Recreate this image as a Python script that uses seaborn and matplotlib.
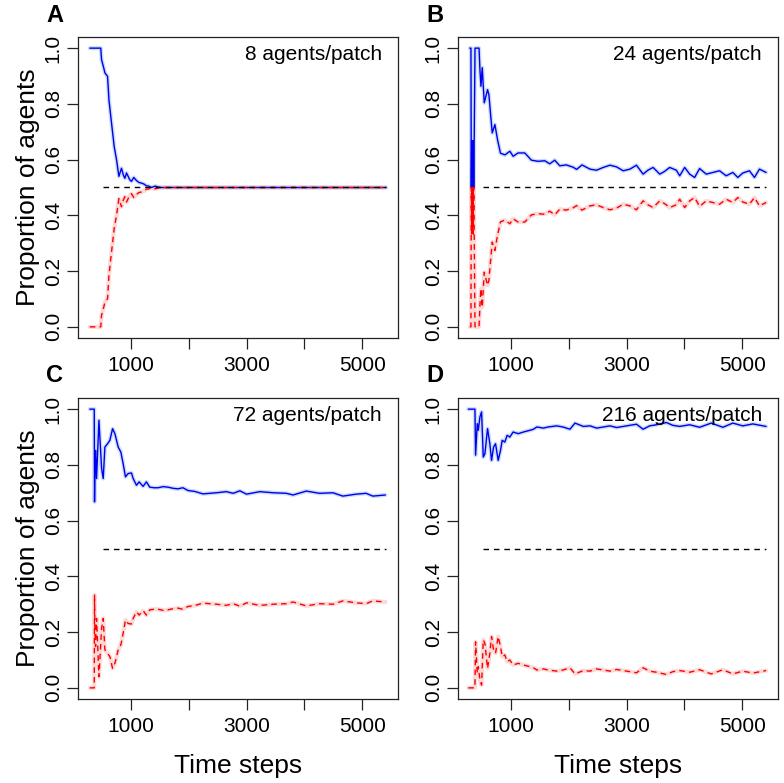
import matplotlib
matplotlib.use("Agg")
import matplotlib.pyplot as plt
import seaborn as sns

# ---- data ----
panel_letters = ["A", "B", "C", "D"]
panel_titles = ["8 agents/patch", "24 agents/patch", "72 agents/patch", "216 agents/patch"]
x_ticks = [1000, 2000, 3000, 4000, 5000]
x_tick_labels = ["1000", "", "3000", "", "5000"]
y_ticks = [0.0, 0.2, 0.4, 0.6, 0.8, 1.0]
ref_x = [520, 5410]
ref_y = [0.5, 0.5]

time_a = [290, 480, 493, 530, 552, 597, 621, 666, 712, 752, 793, 838, 870, 896, 925,
          953, 980, 1010, 1050, 1097, 1140, 1183, 1230, 1269, 1310, 1355, 1420, 1470,
          1510, 5410]
blue_a = [1.0, 1.0, 0.959, 0.93, 0.911, 0.899, 0.815, 0.731, 0.647, 0.60, 0.54, 0.569,
          0.545, 0.533, 0.552, 0.540, 0.528, 0.522, 0.536, 0.525, 0.518, 0.516, 0.512,
          0.506, 0.505, 0.500, 0.505, 0.502, 0.500, 0.500]
red_a = [0.0, 0.0, 0.041, 0.07, 0.089, 0.101, 0.185, 0.269, 0.353, 0.40, 0.46, 0.431,
         0.455, 0.467, 0.448, 0.460, 0.472, 0.478, 0.464, 0.475, 0.482, 0.484, 0.488,
         0.494, 0.495, 0.500, 0.495, 0.498, 0.500, 0.500]

time_b = [290, 310, 316, 322, 328, 335, 342, 350, 358, 366, 380, 450, 465, 483, 505,
          540, 597, 620, 678, 724, 769, 821, 897, 983, 1040, 1124, 1241, 1356, 1471,
          1586, 1672, 1759, 1845, 1960, 2075, 2138, 2230, 2368, 2480, 2598, 2713, 2828,
          2943, 3060, 3172, 3287, 3370, 3460, 3575, 3660, 3747, 3862, 3920, 4006, 4092,
          4178, 4264, 4379, 4494, 4609, 4724, 4839, 4925, 5011, 5126, 5213, 5299, 5414]
blue_b = [1.0, 1.0, 0.5, 0.667, 0.5, 0.667, 0.5, 0.667, 0.5, 0.667, 1.0, 1.0, 0.924,
          0.863, 0.93, 0.804, 0.851, 0.833, 0.696, 0.726, 0.672, 0.623, 0.617, 0.63,
          0.612, 0.624, 0.624, 0.598, 0.594, 0.596, 0.585, 0.598, 0.578, 0.581, 0.573,
          0.565, 0.581, 0.566, 0.562, 0.572, 0.58, 0.574, 0.56, 0.566, 0.58, 0.548,
          0.562, 0.572, 0.548, 0.558, 0.572, 0.562, 0.542, 0.572, 0.548, 0.536, 0.568,
          0.548, 0.554, 0.56, 0.542, 0.554, 0.536, 0.552, 0.56, 0.536, 0.566, 0.554]
red_b = [0.0, 0.0, 0.5, 0.333, 0.5, 0.333, 0.5, 0.333, 0.5, 0.333, 0.0, 0.0, 0.076,
         0.137, 0.07, 0.196, 0.149, 0.167, 0.304, 0.274, 0.328, 0.377, 0.383, 0.37,
         0.388, 0.376, 0.376, 0.402, 0.406, 0.404, 0.415, 0.402, 0.422, 0.419, 0.427,
         0.435, 0.419, 0.434, 0.438, 0.428, 0.42, 0.426, 0.44, 0.434, 0.42, 0.452,
         0.438, 0.428, 0.452, 0.442, 0.428, 0.438, 0.458, 0.428, 0.452, 0.464, 0.432,
         0.452, 0.446, 0.44, 0.458, 0.446, 0.464, 0.448, 0.44, 0.464, 0.434, 0.446]

time_c = [290, 367, 372, 379, 390, 407, 448, 494, 522, 551, 597, 637, 684, 724, 781,
          827, 867, 907, 953, 1011, 1040, 1097, 1143, 1212, 1269, 1327, 1400, 1471,
          1560, 1643, 1730, 1816, 1900, 1988, 2100, 2247, 2483, 2650, 2770, 2885, 3000,
          3230, 3460, 3690, 3805, 4034, 4264, 4494, 4667, 4897, 5069, 5184, 5402]
blue_c = [1.0, 1.0, 0.667, 0.804, 0.852, 0.751, 0.960, 0.787, 0.751, 0.864, 0.876,
          0.888, 0.930, 0.912, 0.864, 0.846, 0.804, 0.757, 0.769, 0.771, 0.751, 0.727,
          0.739, 0.723, 0.739, 0.720, 0.718, 0.718, 0.722, 0.720, 0.716, 0.714, 0.718,
          0.708, 0.705, 0.696, 0.70, 0.704, 0.698, 0.707, 0.695, 0.704, 0.70, 0.698,
          0.692, 0.706, 0.698, 0.70, 0.688, 0.695, 0.698, 0.688, 0.692]
red_c = [0.0, 0.0, 0.333, 0.196, 0.148, 0.249, 0.040, 0.213, 0.249, 0.136, 0.124,
         0.112, 0.070, 0.088, 0.136, 0.154, 0.196, 0.243, 0.231, 0.229, 0.249, 0.273,
         0.261, 0.277, 0.261, 0.280, 0.282, 0.282, 0.278, 0.280, 0.284, 0.286, 0.282,
         0.292, 0.295, 0.304, 0.30, 0.296, 0.302, 0.293, 0.305, 0.296, 0.30, 0.302,
         0.308, 0.294, 0.302, 0.30, 0.312, 0.305, 0.302, 0.312, 0.308]

time_d = [264, 379, 390, 419, 437, 465, 494, 523, 551, 597, 637, 666, 701, 735, 781,
          821, 850, 896, 936, 982, 1040, 1126, 1218, 1327, 1391, 1450, 1563, 1643, 1793,
          1900, 2023, 2109, 2253, 2370, 2483, 2600, 2713, 2830, 2943, 3060, 3172, 3287,
          3400, 3517, 3690, 3800, 3920, 4092, 4264, 4466, 4667, 4839, 5011, 5184, 5414]
blue_d = [1.0, 1.0, 0.835, 0.948, 0.924, 0.972, 0.99, 0.828, 0.84, 0.93, 0.876, 0.816,
          0.864, 0.876, 0.816, 0.852, 0.888, 0.882, 0.906, 0.90, 0.918, 0.912, 0.918,
          0.924, 0.928, 0.936, 0.932, 0.936, 0.94, 0.936, 0.928, 0.95, 0.938, 0.940,
          0.932, 0.936, 0.94, 0.934, 0.938, 0.942, 0.946, 0.928, 0.940, 0.944, 0.952,
          0.942, 0.938, 0.944, 0.935, 0.95, 0.935, 0.95, 0.94, 0.947, 0.938]
red_d = [0.0, 0.0, 0.165, 0.052, 0.076, 0.028, 0.01, 0.172, 0.16, 0.07, 0.124, 0.184,
         0.136, 0.124, 0.184, 0.148, 0.112, 0.118, 0.094, 0.10, 0.082, 0.088, 0.082,
         0.076, 0.072, 0.064, 0.068, 0.064, 0.06, 0.064, 0.072, 0.05, 0.062, 0.06,
         0.068, 0.064, 0.06, 0.066, 0.062, 0.058, 0.054, 0.072, 0.06, 0.056, 0.048,
         0.058, 0.062, 0.056, 0.065, 0.05, 0.065, 0.05, 0.06, 0.053, 0.062]

# ---- style ----
sns.set_theme(style="ticks")
plt.rcParams['font.family'] = ['Liberation Sans', 'DejaVu Sans']
plt.rcParams['text.color'] = 'black'
plt.rcParams['axes.labelcolor'] = 'black'
plt.rcParams['xtick.color'] = 'black'
plt.rcParams['ytick.color'] = 'black'

W, H = 784, 783
fig = plt.figure(figsize=(W / 100, H / 100), dpi=100)

# axes boxes in pixels: left, top, right, bottom
boxes = [(78, 37, 398, 338), (458, 37, 778, 338),
         (78, 398, 398, 699), (458, 398, 778, 699)]
series = [(time_a, blue_a, red_a), (time_b, blue_b, red_b),
          (time_c, blue_c, red_c), (time_d, blue_d, red_d)]

for i, ((l, t, r, b), (tm, blue, red)) in enumerate(zip(boxes, series)):
    ax = fig.add_axes([l / W, 1 - b / H, (r - l) / W, (b - t) / H])

    # light confidence halo, then the means
    sns.lineplot(x=tm, y=blue, ax=ax, color="#a9c8f0", linewidth=3.0, alpha=0.6)
    sns.lineplot(x=tm, y=red, ax=ax, color="#f8c0c0", linewidth=3.0, alpha=0.6)
    sns.lineplot(x=tm, y=blue, ax=ax, color="#0000ee", linewidth=1.0)
    sns.lineplot(x=tm, y=red, ax=ax, color="#ff0000", linewidth=1.0,
                 linestyle=(0, (4, 3)))
    ax.plot(ref_x, ref_y, color="black", linewidth=1.0, linestyle=(0, (4, 3.5)))

    ax.set_xlim(86, 5620)
    ax.set_ylim(-0.04, 1.04)
    ax.set_xticks(x_ticks)
    ax.set_xticklabels(x_tick_labels)
    ax.set_yticks(y_ticks)
    ax.set_yticklabels([f"{v:.1f}" for v in y_ticks])
    ax.tick_params(axis='both', labelsize=15, length=8, width=0.9,
                   color="#222222", labelcolor="black", direction="out")
    ax.tick_params(axis='x', pad=5)
    ax.tick_params(axis='y', pad=3)
    for lab in ax.get_yticklabels():
        lab.set_rotation(90)
        lab.set_va('center')
    for sp in ax.spines.values():
        sp.set_visible(True)
        sp.set_color("#222222")
        sp.set_linewidth(0.9)

    ax.text(0.95, 0.975, panel_titles[i], transform=ax.transAxes,
            ha='right', va='top', fontsize=15, color='black')
    fig.text((l - 23) / W, 1 - (t - 22) / H, panel_letters[i], color='black',
             fontsize=17, fontweight='bold', ha='center', va='center')

    if i % 2 == 0:
        ax.set_ylabel("Proportion of agents", fontsize=19, labelpad=3)
    else:
        ax.set_ylabel("")
    if i >= 2:
        ax.set_xlabel("Time steps", fontsize=19, labelpad=13)
    else:
        ax.set_xlabel("")

fig.savefig("out.png", dpi=100)
